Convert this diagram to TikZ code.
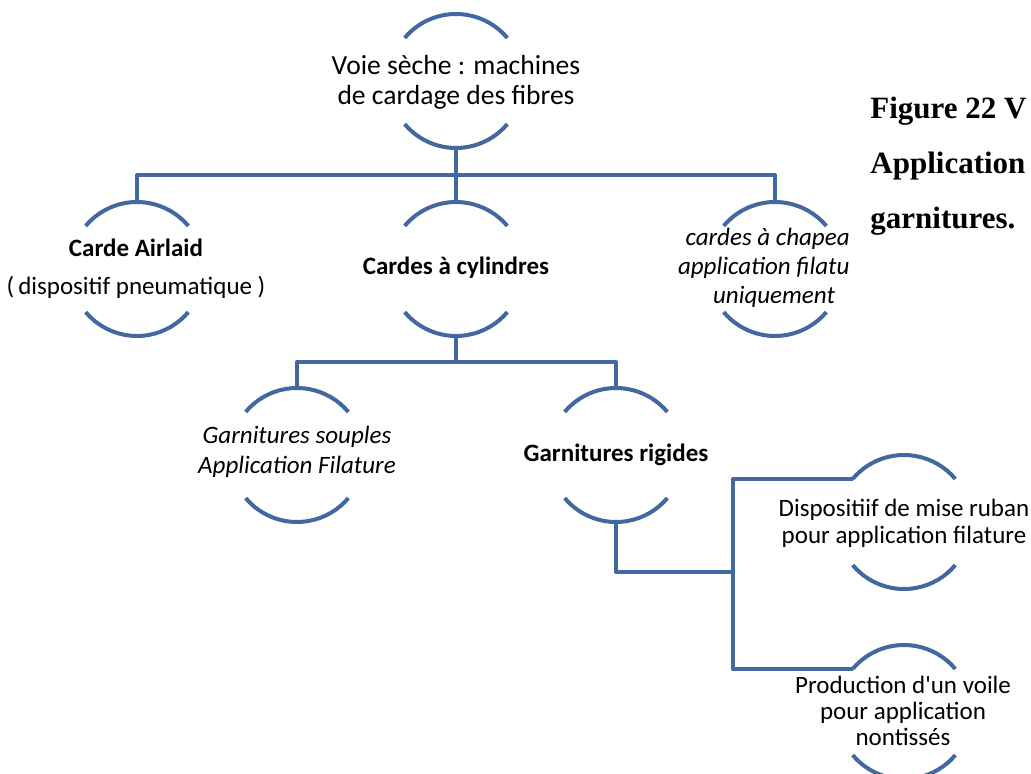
\documentclass[tikz,border=0pt]{standalone}
\usepackage{fontspec}
\setmainfont{Carlito}[Ligatures=TeXOff]
\newfontfamily\capfont{Liberation Serif}
\usepackage{xcolor}
\usetikzlibrary{positioning,calc}
\definecolor{linkblue}{RGB}{65,105,160}

\begin{document}
\begin{tikzpicture}[x=0.5pt, y=-0.5pt, font=\fontsize{12.5}{15}\selectfont,
  ring/.style={circle, minimum size=67pt, inner sep=0pt, outer sep=0pt},
  txt/.style={align=center, inner sep=0pt, font=\fontsize{12.5}{#1}\selectfont},
  txt/.default=15,
  itxt/.style={align=center, inner sep=0pt, font=\itshape\fontsize{12.5}{#1}\selectfont},
  itxt/.default=15,
  btxt/.style={align=center, inner sep=0pt, font=\bfseries\fontsize{12.5}{15}\selectfont},
  link/.style={draw=linkblue, line width=2pt, line join=round},
  caption/.style={anchor=north west, align=left, inner sep=0pt, font=\capfont\bfseries\fontsize{15.5}{27.5}\selectfont}]
\useasboundingbox (0,0) rectangle (1031,774);
\node[ring] (top) at (456,81) {};
\node[ring] (air) at (137,269) {};
\node[ring] (cyl) at (456,269) {};
\node[ring] (chap) at (775,269) {};
\node[ring] (souple) at (297,455) {};
\node[ring] (rigide) at (616,455) {};
\node[ring] (rub) at (904,522) {};
\node[ring] (voile) at (904,712) {};
\foreach \n in {top,air,cyl,chap,souple,rigide,rub,voile}
  \draw[link] (\n.140) arc[start angle=140, end angle=40, radius=33.5pt]
              (\n.220) arc[start angle=220, end angle=320, radius=33.5pt];
\node[align=center, inner sep=0pt, font=\fontsize{13.8}{15}\selectfont] (toptxt) at (456,82) {Voie sèche : machines\\de cardage des fibres};
\node[txt=19] (airtxt) at (136,269) {\textbf{Carde Airlaid}\\(\,dispositif pneumatique )};
\node[btxt] (cyltxt) at (456,268) {Cardes à cylindres};
\begin{scope}
  \clip (0,0) rectangle (849,774);
  \node[itxt=14.5] (chaptxt) at (774,268) {cardes à chapeau\\application filature\\uniquement};
\end{scope}
\node[itxt] (soupletxt) at (297,452) {Garnitures souples\\Application Filature};
\node[btxt] (rigidetxt) at (616,455) {Garnitures rigides};
\node[txt=13.5] (rubtxt) at (904,523) {Dispositiif de mise ruban\\pour application filature};
\node[txt=13] (voiletxt) at (903,711) {Production d'un voile\\pour application\\nontissés};
\node[caption] (cap) at (870,97) {Figure 22 V\\Application\\garnitures.};
\coordinate (b1) at (456,175);
\coordinate (b2) at (456,362);
\coordinate (b3) at (733,572);
\draw[link] (top.south) -- (cyl.north);
\draw[link] (air.north) |- (b1) -| (chap.north);
\draw[link] (cyl.south) -- (b2);
\draw[link] (souple.north) |- (b2) -| (rigide.north);
\draw[link] (rigide.south) |- (b3);
\draw[link] (rub.140) -| (b3) |- (voile.140);
\end{tikzpicture}
\end{document}
